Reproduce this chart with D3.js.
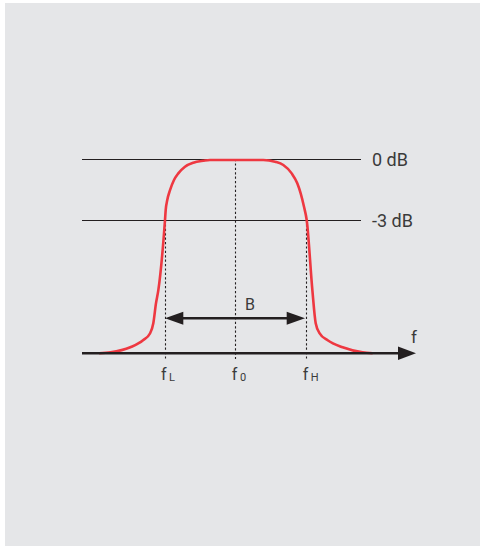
<!DOCTYPE html>
<html>
<head>
<meta charset="utf-8">
<script src="https://cdn.jsdelivr.net/npm/d3@7"></script>
<style>
  html, body { margin: 0; padding: 0; background: #ffffff; }
  svg { display: block; font-family: Roboto, "Liberation Sans", Arial, sans-serif; }
</style>
</head>
<body>
<svg id="chart" width="483" height="546"></svg>
<script>
// Normalised frequency of the band-pass response (f0 = 0, fL = -1, fH = +1)
const freq = [-1.93, -1.77, -1.49, -1.31, -1.21, -1.165, -1.127, -1.094, -1.0, -0.99,
              -0.968, -0.929, -0.873, -0.812, -0.718, -0.6, -0.459, -0.365, 0, 0.387,
              0.553, 0.67, 0.788, 0.867, 0.915, 0.962, 1.0, 1.08, 1.127, 1.183,
              1.296, 1.507, 1.789, 1.93];
// Relative amplitude (baseline = 0, 0 dB = 1)
const level = [0, 0.005, 0.031, 0.067, 0.103, 0.155, 0.258, 0.325, 0.686, 0.738,
               0.789, 0.84, 0.892, 0.926, 0.96, 0.981, 0.991, 0.995, 0.995, 0.995,
               0.986, 0.969, 0.926, 0.875, 0.823, 0.754, 0.686, 0.325, 0.155, 0.103,
               0.067, 0.031, 0.005, 0];

// Reference levels
const refLabels = ["0 dB", "-3 dB"];
const refValues = [1, 0.686];

// Marked frequencies
const markSubs = ["L", "0", "H"];
const markFreqs = [-1, 0, 1];
const markTops = [0.686, 1, 0.686];

const svg = d3.select("#chart");

// panel
svg.append("rect")
  .attr("x", 5).attr("y", 3).attr("width", 475).attr("height", 543)
  .attr("fill", "#e5e6e8");

const x = d3.scaleLinear().domain([-1, 1]).range([165, 306.7]);
const y = d3.scaleLinear().domain([0, 1]).range([353.3, 159]);
const crisp = v => Math.round(v - 0.5) + 0.5;

const ink = "#231f20";
const textInk = "#3b3b3b";

// reference level lines
const refs = svg.append("g");
refs.selectAll("line").data(refValues).join("line")
  .attr("x1", 82).attr("x2", 361)
  .attr("y1", d => crisp(y(d))).attr("y2", d => crisp(y(d)))
  .attr("stroke", ink).attr("stroke-width", 1.1);
refs.selectAll("text").data(refLabels).join("text")
  .attr("x", 372)
  .attr("y", (d, i) => y(refValues[i]) + 7)
  .attr("font-size", 18)
  .attr("fill", textInk)
  .text(d => d);

// dotted markers
svg.append("g").selectAll("line").data(markFreqs).join("line")
  .attr("x1", d => crisp(x(d))).attr("x2", d => crisp(x(d)))
  .attr("y1", (d, i) => y(markTops[i]))
  .attr("y2", 359)
  .attr("stroke", ink).attr("stroke-width", 1.1)
  .attr("stroke-dasharray", "2.2,2.2");

// response curve
const line = d3.line()
  .x((d, i) => x(freq[i]))
  .y(d => y(d))
  .curve(d3.curveMonotoneX);
svg.append("path")
  .datum(level)
  .attr("d", line)
  .attr("fill", "none")
  .attr("stroke", "#ee3841")
  .attr("stroke-width", 2.6)
  .attr("stroke-linejoin", "round");

// frequency axis with arrow
const axisY = y(0);
svg.append("line")
  .attr("x1", 82).attr("x2", 400)
  .attr("y1", axisY).attr("y2", axisY)
  .attr("stroke", ink).attr("stroke-width", 2.4);
svg.append("path")
  .attr("d", `M398,${axisY - 6.8} L416,${axisY} L398,${axisY + 6.8} Z`)
  .attr("fill", ink);
svg.append("text")
  .attr("x", 414).attr("y", 343)
  .attr("text-anchor", "middle")
  .attr("font-size", 17)
  .attr("fill", textInk)
  .text("f");

// bandwidth arrow
const bY = 318.3;
svg.append("line")
  .attr("x1", x(-1) + 12).attr("x2", x(1) - 12)
  .attr("y1", bY).attr("y2", bY)
  .attr("stroke", ink).attr("stroke-width", 2.4);
svg.append("path")
  .attr("d", `M${x(-1)},${bY} L${x(-1) + 18.3},${bY - 6.5} L${x(-1) + 18.3},${bY + 6.5} Z`)
  .attr("fill", ink);
svg.append("path")
  .attr("d", `M${x(1) - 1.7},${bY} L${x(1) - 20},${bY - 6.5} L${x(1) - 20},${bY + 6.5} Z`)
  .attr("fill", ink);
svg.append("text")
  .attr("x", 250).attr("y", 310)
  .attr("text-anchor", "middle")
  .attr("font-size", 16)
  .attr("fill", textInk)
  .text("B");

// frequency labels with subscripts
const labs = svg.append("g").selectAll("text").data(markFreqs).join("text")
  .attr("x", d => x(d) - 4)
  .attr("y", 380)
  .attr("font-size", 16)
  .attr("fill", textInk);
labs.append("tspan").text("f");
labs.append("tspan")
  .attr("dx", 2.5)
  .attr("dy", 1)
  .attr("font-size", 11)
  .text((d, i) => markSubs[i]);
</script>
</body>
</html>
